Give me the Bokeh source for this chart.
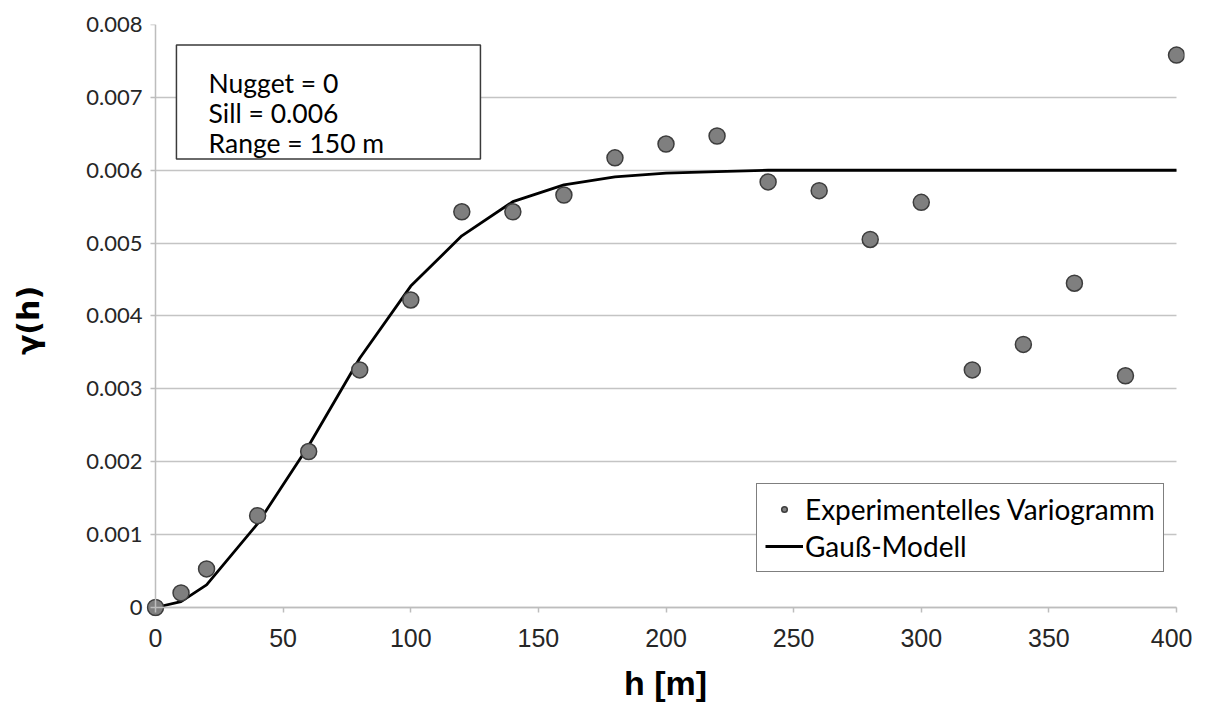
from bokeh.plotting import figure
from bokeh.models import Range1d, FixedTicker, Legend, LegendItem, BoxAnnotation, Label, LinearAxis
from bokeh.embed import file_html
from bokeh.resources import INLINE

# ---- data ----
h_exp = [0, 10, 20, 40, 60, 80, 100, 120, 140, 160, 180, 200, 220, 240, 260, 280, 300, 320, 340, 360, 380, 400]
gamma_exp = [0.0, 0.00020, 0.00053, 0.00126, 0.00214, 0.00326, 0.00422, 0.00543, 0.00543, 0.00566,
             0.00617, 0.00636, 0.00647, 0.00584, 0.00572, 0.00505, 0.00556, 0.00326, 0.00361,
             0.00445, 0.00318, 0.00758]

h_model = [0, 10, 20, 40, 60, 80, 100, 120, 140, 160, 180, 200, 220, 240, 260, 280, 300, 320, 340, 360, 380, 400]
gamma_model = [0.0, 0.00008, 0.00031, 0.00115, 0.00222, 0.00342, 0.00441, 0.00510, 0.00557, 0.00580,
               0.00591, 0.00596, 0.00598, 0.00600, 0.00600, 0.00600, 0.00600, 0.00600, 0.00600,
               0.00600, 0.00600, 0.00600]

x_ticks = [0, 50, 100, 150, 200, 250, 300, 350, 400]
y_ticks = [0.0, 0.001, 0.002, 0.003, 0.004, 0.005, 0.006, 0.007, 0.008]
y_tick_labels = ["0", "0.001", "0.002", "0.003", "0.004", "0.005", "0.006", "0.007", "0.008"]

series_labels = ["Experimentelles Variogramm", "Gauß-Modell"]
info_lines = ["Nugget = 0", "Sill = 0.006", "Range = 150 m"]
x_title = "h [m]"
y_title = "γ(h)"

X_MIN, X_MAX = 0, 400
Y_MIN, Y_MAX = 0.0, 0.008

AX_GRAY = "#bdbdbd"
TXT = "#262626"

# ---- figure ----
# ranges padded slightly so the end markers are not clipped; axis lines are pinned at 0
p = figure(width=1192, height=706,
           x_range=Range1d(-3.53, 403.13), y_range=Range1d(-0.0001235, Y_MAX),
           min_border_left=146, min_border_right=8, min_border_top=24, min_border_bottom=90,
           output_backend="svg", toolbar_location=None)
p.outline_line_color = None
p.background_fill_color = "white"
p.border_fill_color = "white"

p.xgrid.visible = False
p.ygrid.ticker = FixedTicker(ticks=y_ticks)
p.ygrid.grid_line_color = "#c4c4c4"
p.ygrid.grid_line_width = 1.5
try:
    p.ygrid.cross_bounds = (X_MIN, X_MAX)
except Exception:
    pass

# ---- label-carrying axes (at the frame edges; no line / ticks) ----
xa = p.xaxis[0]
xa.ticker = FixedTicker(ticks=x_ticks)
xa.axis_line_color = None
xa.major_tick_line_color = None
xa.major_tick_out = 0
xa.major_tick_in = 0
xa.minor_tick_line_color = None
xa.major_label_text_font = "Liberation Sans"
xa.major_label_text_font_size = "25px"
xa.major_label_text_color = TXT
xa.major_label_standoff = 12
xa.axis_label = x_title
xa.axis_label_text_font = "Liberation Sans"
xa.axis_label_text_font_style = "bold"
xa.axis_label_text_font_size = "34px"
xa.axis_label_text_color = "black"
xa.axis_label_standoff = 14

ya = p.yaxis[0]
ya.ticker = FixedTicker(ticks=y_ticks)
ya.major_label_overrides = {t: lab for t, lab in zip(y_ticks, y_tick_labels)}
ya.axis_line_color = None
ya.major_tick_line_color = None
ya.major_tick_out = 0
ya.major_tick_in = 0
ya.minor_tick_line_color = None
ya.major_label_text_font = "Lato"
ya.major_label_text_font_size = "22px"
ya.major_label_text_color = TXT
ya.major_label_standoff = 4
ya.axis_label = y_title
ya.axis_label_text_font = "DejaVu Sans"
ya.axis_label_text_font_style = "bold"
ya.axis_label_text_font_size = "30px"
ya.axis_label_text_color = "black"
ya.axis_label_standoff = 37

# ---- axis lines + ticks pinned at the origin ----
def line_axis(ticks, bounds, loc):
    ax = LinearAxis(fixed_location=loc, bounds=bounds, ticker=FixedTicker(ticks=ticks))
    ax.axis_line_color = AX_GRAY
    ax.axis_line_width = 1.5
    ax.major_tick_line_color = AX_GRAY
    ax.major_tick_line_width = 1.5
    ax.major_tick_out = 5
    ax.major_tick_in = 0
    ax.minor_tick_line_color = None
    ax.major_label_text_alpha = 0
    ax.major_label_text_font_size = "1px"
    return ax

p.add_layout(line_axis(x_ticks, (X_MIN, X_MAX), Y_MIN), "below")
p.add_layout(line_axis(y_ticks, (Y_MIN, Y_MAX), X_MIN), "left")

# ---- glyphs ----
ln = p.line(h_model, gamma_model, line_color="black", line_width=2.8)
sc = p.scatter(h_exp, gamma_exp, size=16, marker="circle",
               fill_color="#7f7f7f", line_color="#3d3d3d", line_width=1.5)

# ---- info box ----
box = BoxAnnotation(left=8.2, right=127.3, top=0.00772, bottom=0.006156,
                    fill_color="white", fill_alpha=1.0,
                    line_color="#3a3a3a", line_alpha=1.0, line_width=1.5)
p.add_layout(box)
for txt, yb in zip(info_lines, [0.007192, 0.006781, 0.00637]):
    p.add_layout(Label(x=20.8, y=yb, text=txt, text_font="Lato", text_font_size="26.5px",
                       text_color="black", text_baseline="alphabetic"))

# ---- legend ----
legend = Legend(items=[LegendItem(label=series_labels[0], renderers=[sc]),
                       LegendItem(label=series_labels[1], renderers=[ln])],
                location=(610, 44))
legend.border_line_color = "black"
legend.border_line_width = 1.5
legend.background_fill_color = "white"
legend.background_fill_alpha = 1.0
legend.label_text_font = "Lato"
legend.label_text_font_size = "28px"
legend.label_text_color = "black"
legend.padding = 8
legend.margin = 0
legend.spacing = 3
legend.glyph_width = 38
legend.glyph_height = 14
legend.label_height = 30
legend.label_standoff = 2
p.add_layout(legend)

open("out.html", "w").write(file_html(p, INLINE))
